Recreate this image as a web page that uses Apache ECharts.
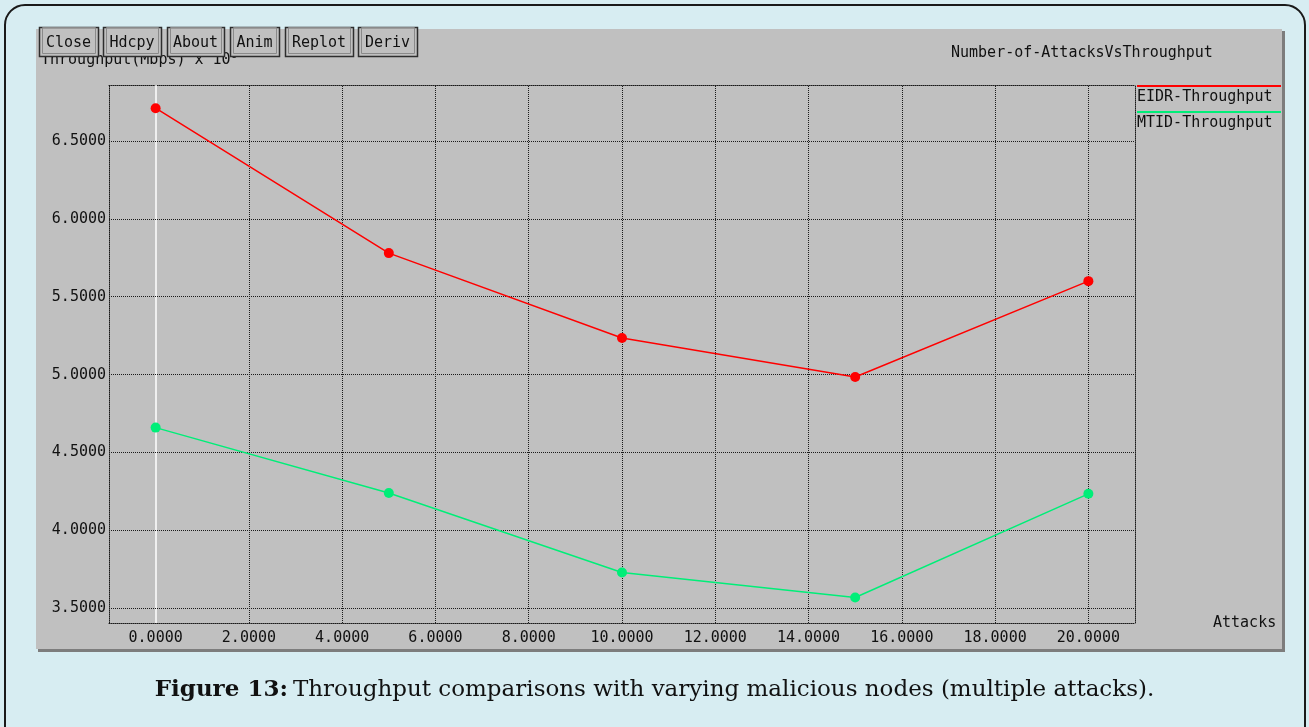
<!DOCTYPE html>
<html>
<head>
<meta charset="utf-8">
<title>Number-of-AttacksVsThroughput</title>
<script src="https://cdn.jsdelivr.net/npm/echarts@6/dist/echarts.min.js"></script>
<style>
  html, body { margin: 0; padding: 0; background: #d7edf2; }
  #chart { width: 1309px; height: 727px; }
</style>
</head>
<body>
<div id="chart"></div>
<script>
// Number of attacks on the x axis, throughput (Mbps x 10^6) on the y axis
const attacks = [0, 5, 10, 15, 20];
const eidrThroughput = [6.71, 5.78, 5.235, 4.985, 5.60];
const mtidThroughput = [4.66, 4.24, 3.73, 3.57, 4.235];

const xTickValues = [0, 2, 4, 6, 8, 10, 12, 14, 16, 18, 20];
const yTickValues = [3.5, 4.0, 4.5, 5.0, 5.5, 6.0, 6.5];

const seriesNames = ['EIDR-Throughput', 'MTID-Throughput'];
const seriesColors = ['#ff0000', '#00ee78'];
const buttonLabels = ['Close', 'Hdcpy', 'About', 'Anim', 'Replot', 'Deriv'];

const X_MIN = -1, X_MAX = 21;
const Y_MIN = 3.406, Y_MAX = 6.859;

const MONO = '"DejaVu Sans Mono", monospace';
const INK = '#111';

const toPairs = (xs, ys) => xs.map((x, i) => [x, ys[i]]);

// dotted grid lines through the value axes, plus the white zero line
const gridLines = [];
xTickValues.forEach(v => {
  if (v === 0) {
    gridLines.push({ xAxis: v, lineStyle: { color: '#ffffff', type: 'solid', width: 1.5 } });
  } else {
    gridLines.push({ xAxis: v });
  }
});
yTickValues.forEach(v => gridLines.push({ yAxis: v }));

// toolbar buttons across the top of the panel
const buttonX = [39, 103, 167, 230, 285, 358];
const buttonW = [59, 58, 57, 49, 68, 59];
const buttonGraphics = [];
buttonLabels.forEach((label, i) => {
  buttonGraphics.push({
    type: 'rect', z: 100,
    shape: { x: buttonX[i] + 0.5, y: 27.5, width: buttonW[i], height: 29 },
    style: { fill: '#c0c0c0', stroke: '#2e2e2e', lineWidth: 1.5 }
  });
  buttonGraphics.push({
    type: 'rect', z: 100,
    shape: { x: buttonX[i] + 3.5, y: 27.5, width: buttonW[i] - 6, height: 26 },
    style: { fill: 'none', stroke: '#8a8a8a', lineWidth: 1 }
  });
  buttonGraphics.push({
    type: 'text', z: 101,
    x: buttonX[i] + buttonW[i] / 2, y: 43,
    style: { text: label, font: '15px ' + MONO, fill: INK, align: 'center', verticalAlign: 'middle' }
  });
});

// legend: a coloured rule above each series name
const legendGraphics = [];
seriesNames.forEach((name, i) => {
  const y0 = 86 + i * 26;
  legendGraphics.push({
    type: 'line', z: 50,
    shape: { x1: 1137, y1: y0, x2: 1281, y2: y0 },
    style: { stroke: seriesColors[i], lineWidth: 2 }
  });
  legendGraphics.push({
    type: 'text', z: 50,
    x: 1137, y: y0 + 11,
    style: { text: name, font: '15px ' + MONO, fill: INK, align: 'left', verticalAlign: 'middle' }
  });
});

const chart = echarts.init(document.getElementById('chart'), null, { renderer: 'canvas' });

const dottedAxisLine = { show: true, onZero: false, lineStyle: { color: '#1a1a1a', type: [1, 1], width: 1 } };

chart.setOption({
  backgroundColor: '#d7edf2',
  animation: false,
  title: [
    {
      text: 'Number-of-AttacksVsThroughput',
      left: 946, top: 41,
      textStyle: { fontFamily: MONO, fontSize: 15, fontWeight: 'normal', color: INK }
    },
    {
      text: '{b|Figure 13:} {r|Throughput comparisons with varying malicious nodes (multiple attacks).}',
      left: 'center', top: 674,
      textStyle: {
        rich: {
          b: { fontFamily: '"DejaVu Serif", serif', fontSize: 23, fontWeight: 'bold', color: '#111' },
          r: { fontFamily: '"DejaVu Serif", serif', fontSize: 23, fontWeight: 'normal', color: '#111' }
        }
      }
    }
  ],
  graphic: {
    elements: [
      // window frame
      {
        type: 'rect', z: -30,
        shape: { x: 5, y: 5, width: 1300, height: 760, r: 20 },
        style: { fill: '#d7edf2', stroke: '#1a1a1a', lineWidth: 2 }
      },
      // panel shadow and panel
      {
        type: 'rect', z: -20,
        shape: { x: 38, y: 31, width: 1247, height: 621 },
        style: { fill: '#7d7d7d' }
      },
      {
        type: 'rect', z: -19,
        shape: { x: 36, y: 29, width: 1246, height: 620 },
        style: { fill: '#c0c0c0' }
      },
      // y axis caption sitting just under the toolbar
      {
        type: 'text', z: 10,
        x: 41, y: 60,
        style: {
          text: '{a|Throughput(Mbps) x 10}{s|6}',
          verticalAlign: 'middle',
          rich: {
            a: { font: '15px ' + MONO, fill: INK },
            s: { font: '11px ' + MONO, fill: INK, verticalAlign: 'top', padding: [0, 0, 10, 0] }
          }
        }
      }
    ].concat(buttonGraphics, legendGraphics)
  },
  grid: { left: 109, right: 174, top: 85, bottom: 104, containLabel: false },
  xAxis: [
    {
      type: 'value', position: 'bottom', min: X_MIN, max: X_MAX,
      name: 'Attacks', nameLocation: 'end', nameGap: 78,
      nameTextStyle: { fontFamily: MONO, fontSize: 15, color: INK, verticalAlign: 'middle', align: 'left' },
      axisLine: dottedAxisLine,
      axisTick: { show: false },
      splitLine: { show: false },
      axisLabel: {
        customValues: xTickValues,
        formatter: v => v.toFixed(4),
        fontFamily: MONO, fontSize: 15, color: INK, margin: 8
      }
    },
    {
      type: 'value', position: 'top', min: X_MIN, max: X_MAX,
      axisLine: dottedAxisLine, axisTick: { show: false }, axisLabel: { show: false }, splitLine: { show: false }
    }
  ],
  yAxis: [
    {
      type: 'value', position: 'left', min: Y_MIN, max: Y_MAX,
      axisLine: dottedAxisLine,
      axisTick: { show: false },
      splitLine: { show: false },
      axisLabel: {
        customValues: yTickValues,
        formatter: v => v.toFixed(4),
        fontFamily: MONO, fontSize: 15, color: INK, margin: 3
      }
    },
    {
      type: 'value', position: 'right', min: Y_MIN, max: Y_MAX,
      axisLine: dottedAxisLine, axisTick: { show: false }, axisLabel: { show: false }, splitLine: { show: false }
    }
  ],
  series: [
    {
      name: 'grid', type: 'line', data: [], z: 1, silent: true,
      markLine: {
        silent: true, symbol: ['none', 'none'], animation: false,
        label: { show: false },
        lineStyle: { color: '#1a1a1a', type: [1, 1], width: 1 },
        emphasis: { disabled: true },
        data: gridLines
      }
    },
    {
      name: seriesNames[0], type: 'line', z: 5,
      data: toPairs(attacks, eidrThroughput),
      symbol: 'circle', symbolSize: 10,
      lineStyle: { color: seriesColors[0], width: 1.5 },
      itemStyle: { color: seriesColors[0] }
    },
    {
      name: seriesNames[1], type: 'line', z: 5,
      data: toPairs(attacks, mtidThroughput),
      symbol: 'circle', symbolSize: 10,
      lineStyle: { color: seriesColors[1], width: 1.5 },
      itemStyle: { color: seriesColors[1] }
    }
  ]
});
</script>
</body>
</html>
